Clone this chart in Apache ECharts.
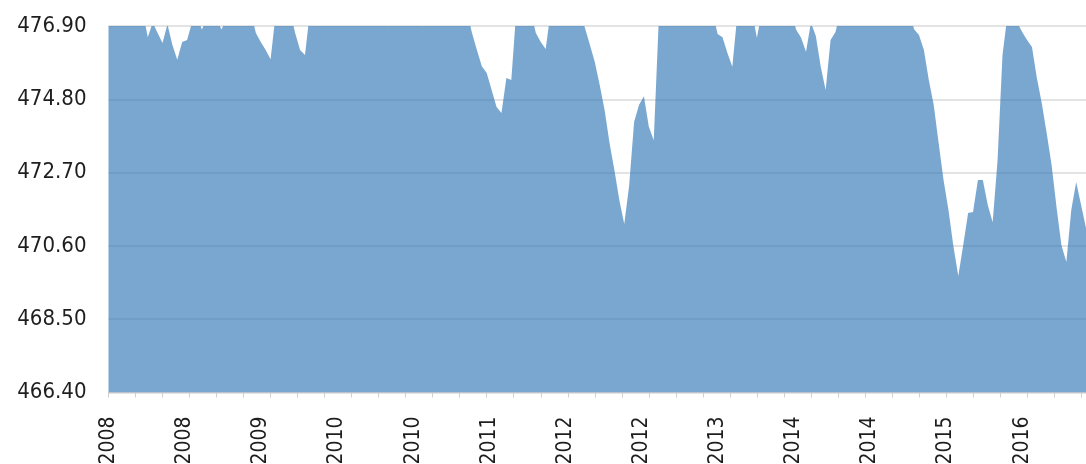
<!DOCTYPE html>
<html>
<head>
<meta charset="utf-8">
<script src="https://cdn.jsdelivr.net/npm/echarts@6/dist/echarts.min.js"></script>
<style>html,body{margin:0;padding:0;background:#fff}#c{width:1086px;height:464px}</style>
</head>
<body>
<div id="c"></div>
<script>
// Year labels shown along the x axis (one every 31 weeks)
var xTickLabels = ['2008','2008','2009','2010','2010','2011','2012','2012','2013','2014','2014','2015','2016'];
// Y axis ticks
var yMin = 466.40, yMax = 476.90, yStep = 2.10;
// Level readings, one every two weeks (values above 476.90 are clipped by the axis)
var levels = [
477.3,477.3,477.3,477.3,477.3,477.3,477.3,477.3,476.58,477.0,
476.70,476.41,476.95,476.36,475.93,476.44,476.50,477.0,477.2,476.80,
477.1,477.1,477.1,476.80,477.1,477.3,477.3,477.3,477.3,477.3,
476.70,476.44,476.21,475.95,477.2,477.3,477.3,477.3,476.70,476.21,
476.07,477.3,477.3,477.3,477.3,477.3,477.3,477.3,477.3,477.3,
477.3,477.3,477.3,477.3,477.3,477.3,477.3,476.88,477.3,477.3,
477.3,477.3,477.3,477.3,476.88,477.3,477.3,477.3,477.3,477.3,
477.3,477.3,477.3,477.3,476.70,476.21,475.75,475.55,475.07,474.58,
474.41,475.41,475.35,477.3,477.3,477.3,477.3,476.70,476.44,476.24,
477.3,477.3,477.3,477.3,477.3,477.3,477.3,476.84,476.36,475.87,
475.21,474.49,473.55,472.77,471.91,471.23,472.34,474.15,474.64,474.89,
474.01,473.63,477.0,477.3,477.3,477.3,477.3,477.3,477.3,477.3,
477.3,477.3,477.3,477.3,476.67,476.58,476.13,475.73,477.2,477.3,
477.3,477.3,476.56,477.3,477.3,477.3,477.3,477.3,477.3,477.3,
476.79,476.56,476.16,477.0,476.61,475.73,475.07,476.5,476.73,477.3,
477.3,477.3,477.3,477.3,477.3,477.3,477.3,477.3,477.3,477.3,
477.3,477.3,477.3,477.3,476.81,476.64,476.21,475.35,474.64,473.55,
472.49,471.63,470.60,469.74,470.62,471.54,471.57,472.49,472.49,471.77,
471.28,473.06,476.07,477.2,477.3,477.0,476.73,476.50,476.30,475.41,
474.69,473.83,472.92,471.71,470.62,470.14,471.63,472.43,471.77,471.11
];
var weeksPerPoint = 2, weeksPerTick = 11, weeksPerLabel = 31;
var lastWeek = (levels.length - 1) * weeksPerPoint;
var seriesData = levels.map(function (v, i) { return [i * weeksPerPoint, v]; });

var font = '"DejaVu Sans Condensed","Liberation Sans Narrow","DejaVu Sans",sans-serif';
var chart = echarts.init(document.getElementById('c'), null, {renderer: 'canvas'});
chart.setOption({
  animation: false,
  grid: {left: 108.5, right: 0, top: 26, bottom: 71.5, containLabel: false, outerBoundsMode: 'none'},
  xAxis: [{
    type: 'value', min: 0, max: lastWeek, interval: weeksPerTick,
    axisLine: {show: true, lineStyle: {color: '#d4d4d4', width: 1}},
    axisTick: {show: true, length: 5, lineStyle: {color: '#cfcfcf'}},
    axisLabel: {show: false},
    splitLine: {show: false}
  }, {
    type: 'value', position: 'bottom', min: 0, max: lastWeek, interval: weeksPerLabel,
    axisLine: {show: false}, axisTick: {show: false}, splitLine: {show: false},
    axisLabel: {
      show: true, rotate: 90, margin: 24, color: '#1e1e1e', fontSize: 21, fontFamily: font,
      showMaxLabel: false,
      formatter: function (v) {
        var k = Math.round(v / weeksPerLabel);
        return (Math.abs(v - k * weeksPerLabel) < 1e-6 && xTickLabels[k]) ? xTickLabels[k] : '';
      }
    }
  }],
  yAxis: {
    type: 'value', min: yMin, max: yMax, interval: yStep,
    axisLine: {show: false}, axisTick: {show: false},
    axisLabel: {color: '#1e1e1e', fontSize: 22, fontFamily: font, margin: 22,
      formatter: function (v) { return v.toFixed(2); }},
    splitLine: {show: true, lineStyle: {color: '#dadada', width: 1.5}}
  },
  series: [{
    type: 'line', xAxisIndex: 0, data: seriesData, symbol: 'none', clip: true,
    lineStyle: {width: 0, opacity: 0},
    areaStyle: {color: 'rgba(51,120,183,0.65)', opacity: 1}
  }]
});
</script>
</body>
</html>
